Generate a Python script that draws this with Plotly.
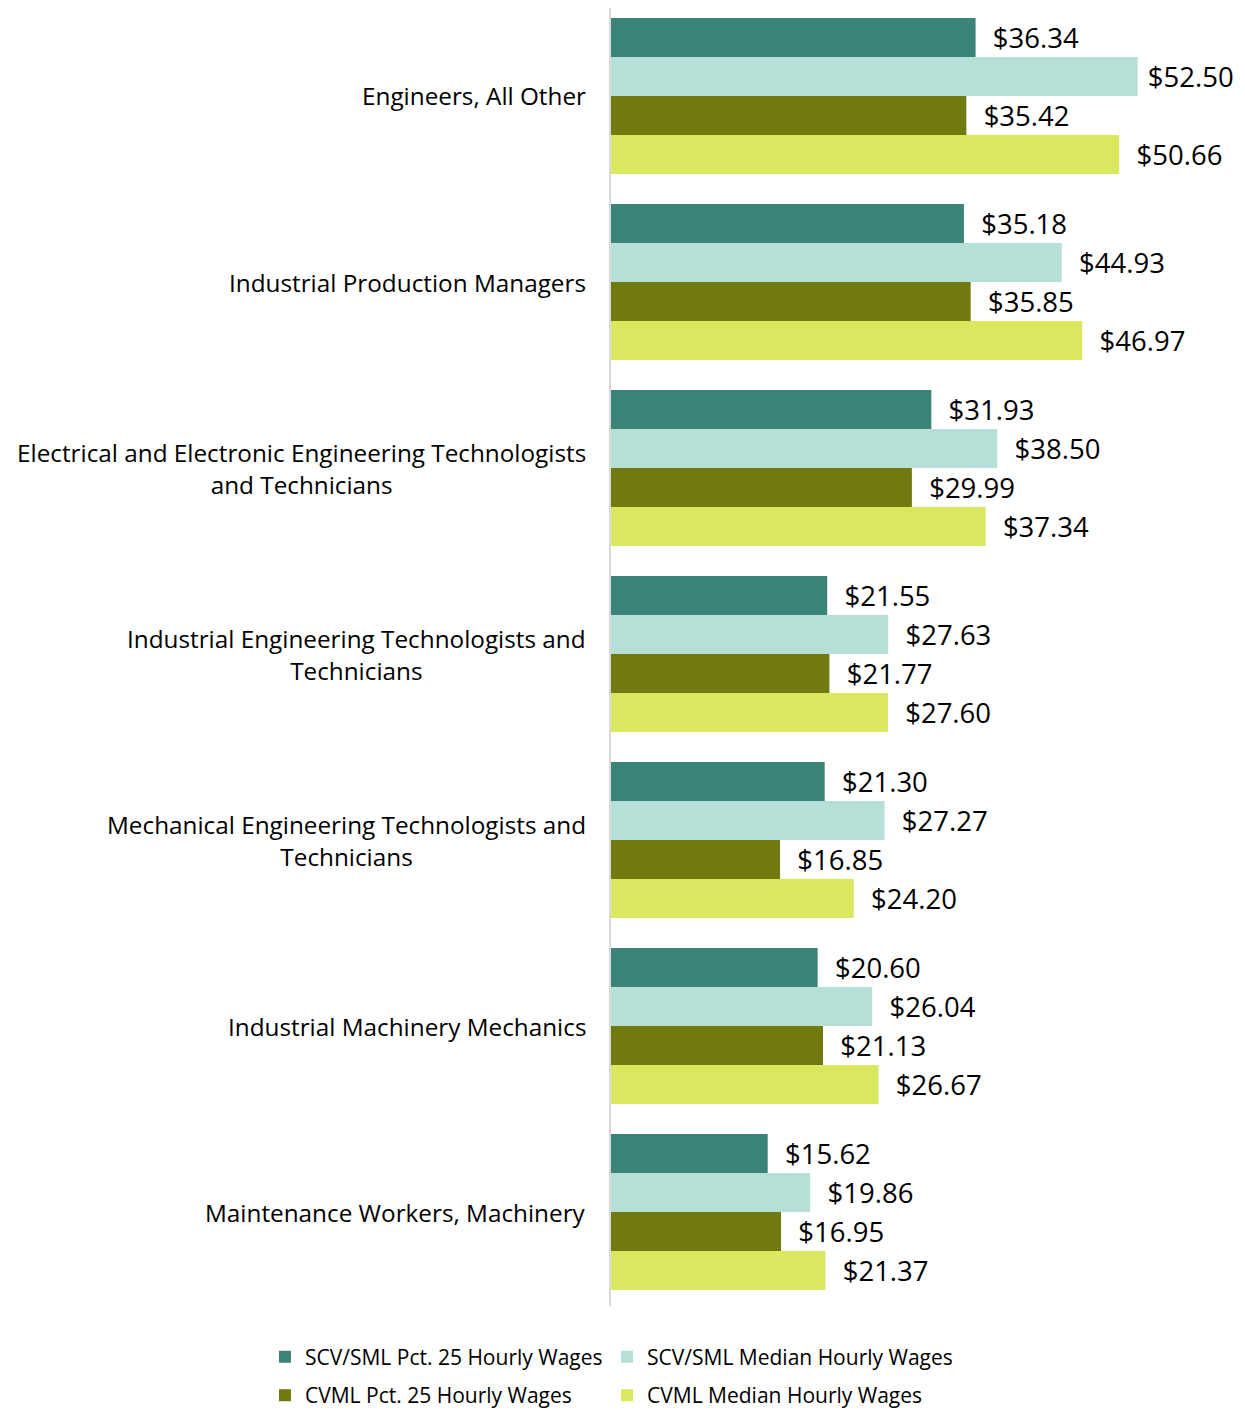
import plotly.graph_objects as go

categories = [
    "Engineers, All Other",
    "Industrial Production Managers",
    "Electrical and Electronic Engineering Technologists<br>and Technicians",
    "Industrial Engineering Technologists and<br>Technicians",
    "Mechanical Engineering Technologists and<br>Technicians",
    "Industrial Machinery Mechanics",
    "Maintenance Workers, Machinery",
]
cat_keys = [f"c{i}" for i in range(len(categories))]

series_names = [
    "SCV/SML Pct. 25 Hourly Wages",
    "SCV/SML Median Hourly Wages",
    "CVML Pct. 25 Hourly Wages",
    "CVML Median Hourly Wages",
]
scv_p25 = [36.34, 35.18, 31.93, 21.55, 21.30, 20.60, 15.62]
scv_med = [52.50, 44.93, 38.50, 27.63, 27.27, 26.04, 19.86]
cvml_p25 = [35.42, 35.85, 29.99, 21.77, 16.85, 21.13, 16.95]
cvml_med = [50.66, 46.97, 37.34, 27.60, 24.20, 26.67, 21.37]

colors = ["#3b8277", "#b5dfd7", "#707a10", "#d9e85f"]
legend_ids = ["legend", "legend2", "legend3", "legend4"]
FONT = "Open Sans"
X_MAX = 62
LABEL_SPAN = 10.3  # label width in axis units, used to pull labels in near the edge


def label(v):
    pad = "\u00a0\u00a0" if v + LABEL_SPAN <= X_MAX else "\u00a0"
    return f"{pad}${v:.2f}"


fig = go.Figure()
for name, vals, col, lg in zip(series_names, [scv_p25, scv_med, cvml_p25, cvml_med], colors, legend_ids):
    fig.add_trace(go.Bar(
        y=cat_keys, x=vals, name=name, orientation="h",
        marker=dict(color=col, line=dict(width=0)),
        text=[label(v) for v in vals],
        textposition="outside", cliponaxis=False, constraintext="none",
        textfont=dict(family=FONT, size=27.5, color="#000000"),
        legend=lg,
    ))

for key, lab in zip(cat_keys, categories):
    fig.add_annotation(
        x=-0.037, xref="paper", y=key, yref="y", text=lab,
        xanchor="right", yanchor="middle", align="center", showarrow=False,
        font=dict(family=FONT, size=24.3, color="#000000"),
    )

legend_common = dict(orientation="h", xanchor="left", yanchor="middle",
                     font=dict(family=FONT, size=21, color="#000000"),
                     bgcolor="rgba(0,0,0,0)")
col_x = [-0.5563, -0.0064]
row_y = [-0.0393, -0.0690]

fig.update_layout(
    width=1237, height=1403,
    margin=dict(l=603, r=12, t=0, b=105, autoexpand=False),
    paper_bgcolor="white", plot_bgcolor="white",
    barmode="group", bargap=0.161, bargroupgap=0,
    font=dict(family=FONT, color="#000000"),
    showlegend=True,
    legend=dict(legend_common, x=col_x[0], y=row_y[0]),
    legend2=dict(legend_common, x=col_x[1], y=row_y[0]),
    legend3=dict(legend_common, x=col_x[0], y=row_y[1]),
    legend4=dict(legend_common, x=col_x[1], y=row_y[1]),
    xaxis=dict(range=[0, X_MAX], visible=False, showgrid=False, zeroline=False),
    yaxis=dict(range=[6.505, -0.473], showticklabels=False, ticks="",
               showline=True, linecolor="#d9d9d9", linewidth=2, showgrid=False),
)

fig.write_html("out.html")
